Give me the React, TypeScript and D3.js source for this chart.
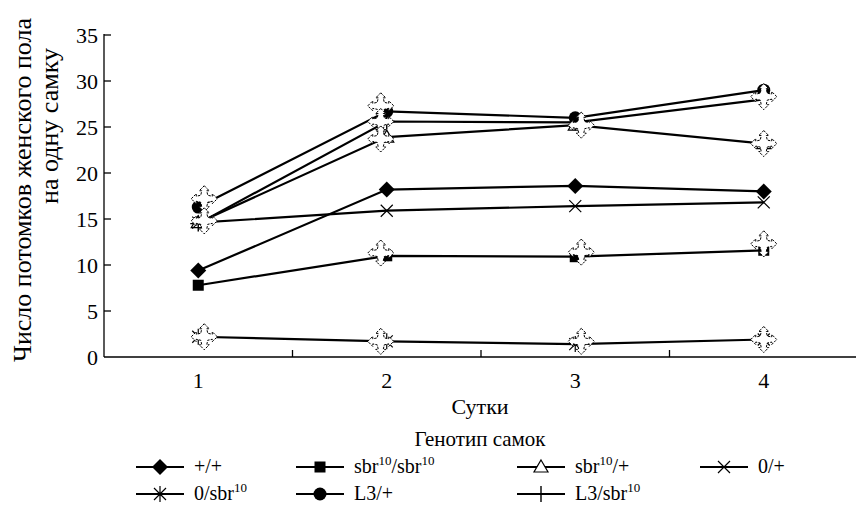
import React from "react";
import * as d3 from "d3";

const days = [1, 2, 3, 4];
const yTicks = [0, 5, 10, 15, 20, 25, 30, 35];
const seriesNames = ["+/+", "sbr10/sbr10", "sbr10/+", "0/+", "0/sbr10", "L3/+", "L3/sbr10"];
const seriesMarkers = ["diamond", "square", "triangle", "x", "asterisk", "circle", "plus"];
const plusPlus = [9.4, 18.2, 18.6, 18.0];
const sbrSbr = [7.8, 11.0, 10.9, 11.6];
const sbrPlus = [14.6, 23.9, 25.2, 23.2];
const zeroPlus = [14.6, 15.9, 16.4, 16.8];
const zeroSbr = [2.2, 1.7, 1.4, 1.9];
const l3Plus = [16.3, 26.7, 26.0, 29.0];
const l3Sbr = [14.5, 25.6, 25.5, 28.0];
const seriesValues = [plusPlus, sbrSbr, sbrPlus, zeroPlus, zeroSbr, l3Plus, l3Sbr];

// decorative open "cross" glyphs drawn over some points
const overlayDays = [1, 1, 1, 2, 2, 2, 2, 2, 3, 3, 3, 4, 4, 4, 4];
const overlayValues = [17.2, 14.8, 2.2, 27.3, 25.6, 23.7, 11.3, 1.7, 25.2, 11.4, 1.7, 28.3, 23.2, 12.3, 1.9];
const overlayShift = [1, 1, 1, -1, -1, -1, -1, -1, 1, 1, 1, 0, 0, 0, 0];

const W = 856;
const H = 532;
const FONT = "Liberation Serif, Tinos, Times New Roman, Times, DejaVu Serif, Noto Serif, serif";

const x = d3.scaleLinear().domain([0.5, 4.5]).range([104, 858]);
const y = d3.scaleLinear().domain([0, 35]).range([357, 35]);

function Marker({ type, cx, cy }: { type: string; cx: number; cy: number }) {
  const s = "#000";
  switch (type) {
    case "diamond":
      return <path d={`M${cx},${cy - 8}L${cx + 8},${cy}L${cx},${cy + 8}L${cx - 8},${cy}Z`} fill={s} />;
    case "square":
      return <rect x={cx - 5.5} y={cy - 5.5} width={11} height={11} fill={s} />;
    case "triangle":
      return <path d={`M${cx},${cy - 7}L${cx + 7},${cy + 5}L${cx - 7},${cy + 5}Z`} fill="#fff" stroke={s} strokeWidth={1.2} />;
    case "x":
      return <path d={`M${cx - 6},${cy - 6}L${cx + 6},${cy + 6}M${cx - 6},${cy + 6}L${cx + 6},${cy - 6}`} stroke={s} strokeWidth={1.2} />;
    case "asterisk":
      return (
        <path
          d={`M${cx - 6},${cy - 6}L${cx + 6},${cy + 6}M${cx - 6},${cy + 6}L${cx + 6},${cy - 6}M${cx},${cy - 8}L${cx},${cy + 8}`}
          stroke={s}
          strokeWidth={1.2}
        />
      );
    case "circle":
      return <circle cx={cx} cy={cy} r={6.5} fill={s} />;
    case "plus":
      return <path d={`M${cx - 8},${cy}L${cx + 8},${cy}M${cx},${cy - 8}L${cx},${cy + 8}`} stroke={s} strokeWidth={1.4} />;
  }
  return null;
}

function glyphPath(cx: number, cy: number) {
  const p: [number, number][] = [
    [0, -13], [5, -8], [2.5, -8], [3.5, -3.5], [8, -2.5], [8, -5], [13, 0], [8, 5], [8, 2.5], [3.5, 3.5],
    [2.5, 8], [5, 8], [0, 13], [-5, 8], [-2.5, 8], [-3.5, 3.5], [-8, 2.5], [-8, 5], [-13, 0], [-8, -5],
    [-8, -2.5], [-3.5, -3.5], [-2.5, -8], [-5, -8],
  ];
  return "M" + p.map(([a, b]) => `${cx + a},${cy + b}`).join("L") + "Z";
}

function Label({ name, x0, y0, size }: { name: string; x0: number; y0: number; size: number }) {
  const parts = name.split("10");
  const kids: any[] = [];
  let pendingDy = 0;
  parts.forEach((p, i) => {
    if (p) {
      kids.push(
        <tspan key={"t" + i} dy={pendingDy || undefined}>
          {p}
        </tspan>
      );
      pendingDy = 0;
    }
    if (i < parts.length - 1) {
      kids.push(
        <tspan key={"s" + i} fontSize={size * 0.65} dy={-size * 0.4}>
          10
        </tspan>
      );
      pendingDy = size * 0.4;
    }
  });
  return (
    <text x={x0} y={y0} fontSize={size} fontFamily={FONT} fill="#000">
      {kids}
    </text>
  );
}

export default function App() {
  const line = d3
    .line<number>()
    .x((_, i) => x(days[i]))
    .y((v) => y(v));

  const legendCols = [136, 296, 517, 700];
  const legendRows = [467, 494];

  return (
    <div style={{ position: "absolute", left: 0, top: 0 }}>
      <svg width={W} height={H} style={{ display: "block", background: "#fff" }}>
        <rect width={W} height={H} fill="#fff" />
        {/* axes */}
        <line x1={x(0.5)} x2={x(0.5)} y1={y(35) - 1} y2={y(0)} stroke="#000" strokeWidth={1.3} />
        <line x1={x(0.5)} x2={W} y1={y(0)} y2={y(0)} stroke="#000" strokeWidth={1.3} />
        {yTicks.map((t) => (
          <g key={"yt" + t}>
            {t > 0 && <line x1={x(0.5)} x2={x(0.5) + 7} y1={y(t)} y2={y(t)} stroke="#000" strokeWidth={1.3} />}
            <text x={x(0.5) - 6} y={y(t)} dy="0.35em" textAnchor="end" fontSize={22} fontFamily={FONT}>
              {t}
            </text>
          </g>
        ))}
        {[1.5, 2.5, 3.5].map((t) => (
          <line key={"xt" + t} x1={x(t)} x2={x(t)} y1={y(0)} y2={y(0) - 7} stroke="#000" strokeWidth={1.3} />
        ))}
        {days.map((d) => (
          <text key={"xl" + d} x={x(d)} y={388} textAnchor="middle" fontSize={22} fontFamily={FONT}>
            {d}
          </text>
        ))}
        <text x={480} y={414} textAnchor="middle" fontSize={22} fontFamily={FONT}>
          Сутки
        </text>
        <text x={480} y={446} textAnchor="middle" fontSize={21} fontFamily={FONT}>
          Генотип самок
        </text>
        <text transform="translate(31,190) rotate(-90)" textAnchor="middle" fontSize={26} fontFamily={FONT}>
          Число потомков женского пола
        </text>
        <text transform="translate(58,126) rotate(-90)" textAnchor="middle" fontSize={26} fontFamily={FONT}>
          на одну самку
        </text>

        {/* series lines */}
        {seriesValues.map((vals, i) => (
          <path key={"l" + i} d={line(vals) || ""} fill="none" stroke="#000" strokeWidth={2.2} />
        ))}
        {seriesValues.map((vals, i) =>
          vals.map((v, j) => <Marker key={"m" + i + "-" + j} type={seriesMarkers[i]} cx={x(days[j])} cy={y(v)} />)
        )}
        {overlayValues.map((v, k) => (
          <path
            key={"g" + k}
            d={glyphPath(x(overlayDays[k]) + overlayShift[k] * 6, y(v))}
            fill="#fff"
            stroke="#000"
            strokeWidth={1}
            strokeDasharray="2.5,1.2"
          />
        ))}

        {/* legend */}
        {seriesNames.map((name, i) => {
          const col = i < 4 ? i : i - 4;
          const row = i < 4 ? 0 : 1;
          const lx = legendCols[col];
          const ly = legendRows[row];
          return (
            <g key={"lg" + i}>
              <line x1={lx} x2={lx + 48} y1={ly} y2={ly} stroke="#000" strokeWidth={2} />
              <Marker type={seriesMarkers[i]} cx={lx + 24} cy={ly} />
              <Label name={name} x0={lx + 58} y0={ly + 6} size={20} />
            </g>
          );
        })}
      </svg>
    </div>
  );
}
